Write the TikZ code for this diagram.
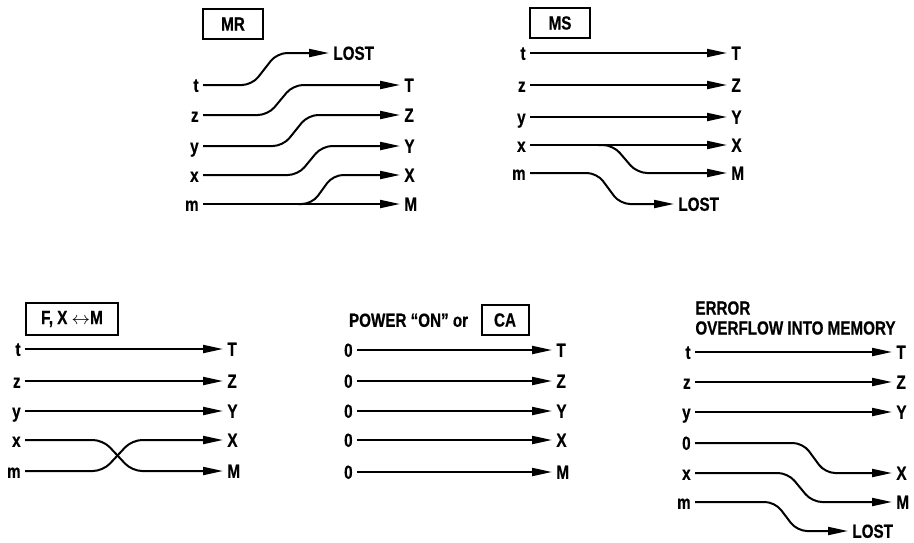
\documentclass[tikz,border=0pt]{standalone}
\usepackage{fontspec}
\setmainfont{Liberation Sans}[FakeStretch=0.8, FakeBold=0.6]
\usepackage{tikz}
\usetikzlibrary{positioning,arrows.meta}

\begin{document}
\begin{tikzpicture}[
  x=0.5pt, y=-0.5pt,
  font=\bfseries\fontsize{9.5}{10}\selectfont,
  >={Triangle[length=10pt,width=4pt]},
  lbl/.style={inner sep=2pt, text height=6.8pt, text depth=0pt},
  inlbl/.style={lbl, anchor=east},
  outlbl/.style={lbl, anchor=west},
  keybox/.style={draw, line width=1pt, minimum width=30pt, minimum height=15pt, inner sep=2pt},
  arr/.style={->, line width=1pt, rounded corners=5pt},
]
\useasboundingbox (0,0) rectangle (914,542);

% MR: memory recall
\node[keybox] (mrkey) at (233,24) {MR};
\node[inlbl] (mrt) at (203,85) {t};
\node[inlbl] (mrz) at (203,115) {z};
\node[inlbl] (mry) at (203,146) {y};
\node[inlbl] (mrx) at (203,175) {x};
\node[inlbl] (mrm) at (203,204) {m};
\node[outlbl] (mrlost) at (329,53) {LOST};
\node[outlbl] (mrT) at (400,85) {T};
\node[outlbl] (mrZ) at (400,115) {Z};
\node[outlbl] (mrY) at (400,146) {Y};
\node[outlbl] (mrX) at (400,175) {X};
\node[outlbl] (mrM) at (400,204) {M};
\coordinate (mrsplit) at (298,204);

\draw[arr] (mrt.east) -- (252,85) -- (277,53) -- (mrlost.west);
\draw[arr] (mrz.east) -- (268,115) -- (293,85) -- (mrT.west);
\draw[arr] (mry.east) -- (283,146) -- (308,115) -- (mrZ.west);
\draw[arr] (mrx.east) -- (298,175) -- (322,146) -- (mrY.west);
\draw[arr] (mrm.east) -- (mrM.west);
\draw[arr] (mrsplit) -- (312,204) -- (333,175) -- (mrX.west);

% MS: memory store
\node[keybox] (mskey) at (560,23) {MS};
\node[inlbl] (mst) at (530,53) {t};
\node[inlbl] (msz) at (530,85) {z};
\node[inlbl] (msy) at (530,117) {y};
\node[inlbl] (msx) at (530,145) {x};
\node[inlbl] (msm) at (530,173) {m};
\node[outlbl] (msT) at (727,53) {T};
\node[outlbl] (msZ) at (727,85) {Z};
\node[outlbl] (msY) at (727,117) {Y};
\node[outlbl] (msX) at (727,145) {X};
\node[outlbl] (msM) at (727,173) {M};
\node[outlbl] (mslost) at (674,204) {LOST};
\coordinate (mssplit) at (598,145);

\draw[arr] (mst.east) -- (msT.west);
\draw[arr] (msz.east) -- (msZ.west);
\draw[arr] (msy.east) -- (msY.west);
\draw[arr] (msx.east) -- (msX.west);
\draw[arr] (mssplit) -- (613,145) -- (637,173) -- (msM.west);
\draw[arr] (msm.east) -- (597,173) -- (620,204) -- (mslost.west);

% F, X<->M: exchange
\node[keybox, minimum width=46pt, minimum height=16pt] (fkey) at (72,319) {F, X $\leftrightarrow$M};
\node[inlbl] (ft) at (25,349) {t};
\node[inlbl] (fz) at (25,381) {z};
\node[inlbl] (fy) at (25,411) {y};
\node[inlbl] (fx) at (25,440) {x};
\node[inlbl] (fm) at (25,471) {m};
\node[outlbl] (fT) at (223,349) {T};
\node[outlbl] (fZ) at (223,381) {Z};
\node[outlbl] (fY) at (223,411) {Y};
\node[outlbl] (fX) at (223,440) {X};
\node[outlbl] (fM) at (223,471) {M};

\draw[arr] (ft.east) -- (fT.west);
\draw[arr] (fz.east) -- (fZ.west);
\draw[arr] (fy.east) -- (fY.west);
\draw[arr] (fx.east) -- (103,440) -- (132,471) -- (fM.west);
\draw[arr] (fm.east) -- (103,471) -- (132,440) -- (fX.west);

% Power on / CA: clear all
\node[keybox, minimum width=23.5pt] (cakey) at (505,320) {CA};
\node[lbl, left=4pt of cakey] (power) {POWER ``ON'' or};
\node[inlbl] (ca1) at (357,350) {0};
\node[inlbl] (ca2) at (357,381) {0};
\node[inlbl] (ca3) at (357,411) {0};
\node[inlbl] (ca4) at (357,440) {0};
\node[inlbl] (ca5) at (357,472) {0};
\node[outlbl] (caT) at (552,350) {T};
\node[outlbl] (caZ) at (552,381) {Z};
\node[outlbl] (caY) at (552,411) {Y};
\node[outlbl] (caX) at (552,440) {X};
\node[outlbl] (caM) at (552,472) {M};

\draw[arr] (ca1.east) -- (caT.west);
\draw[arr] (ca2.east) -- (caZ.west);
\draw[arr] (ca3.east) -- (caY.west);
\draw[arr] (ca4.east) -- (caX.west);
\draw[arr] (ca5.east) -- (caM.west);

% Error: overflow into memory
\node[anchor=west, align=left, inner sep=2pt] (errtitle) at (691,318) {ERROR\\OVERFLOW INTO MEMORY};
\node[inlbl] (et) at (695,352) {t};
\node[inlbl] (ez) at (695,382) {z};
\node[inlbl] (ey) at (695,412) {y};
\node[inlbl] (e0) at (695,443) {0};
\node[inlbl] (ex) at (695,473) {x};
\node[inlbl] (em) at (695,502) {m};
\node[outlbl] (eT) at (892,352) {T};
\node[outlbl] (eZ) at (892,382) {Z};
\node[outlbl] (eY) at (892,412) {Y};
\node[outlbl] (eX) at (892,473) {X};
\node[outlbl] (eM) at (892,502) {M};
\node[outlbl] (elost) at (848,531) {LOST};

\draw[arr] (et.east) -- (eT.west);
\draw[arr] (ez.east) -- (eZ.west);
\draw[arr] (ey.east) -- (eY.west);
\draw[arr] (e0.east) -- (803,443) -- (825,473) -- (eX.west);
\draw[arr] (ex.east) -- (788,473) -- (812,502) -- (eM.west);
\draw[arr] (em.east) -- (775,502) -- (797,531) -- (elost.west);

\end{tikzpicture}
\end{document}
